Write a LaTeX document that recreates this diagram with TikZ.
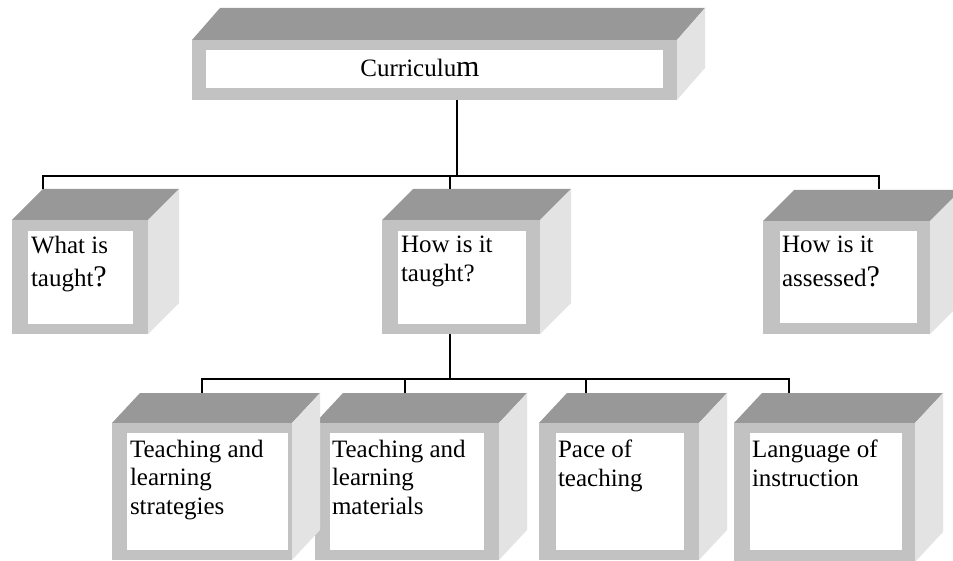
\documentclass[tikz,border=0pt]{standalone}
\usepackage{fontspec}
\setmainfont{Liberation Serif}
\definecolor{topc}{RGB}{152,152,152}
\definecolor{frontc}{RGB}{194,194,194}
\definecolor{sidec}{RGB}{227,227,227}
\newcommand\cubebox[7]{% name, x0, y0, w, h, dx, dy
  \fill[topface] (#2,#3) -- ++(#6,-#7) -- ++(#4,0) -- ++(-#6,#7) -- cycle;
  \fill[sideface] (#2+#4,#3) -- ++(#6,-#7) -- ++(0,#5) -- ++(-#6,#7) -- cycle;
  \node[frontface, minimum width=#4pt, minimum height=#5pt, anchor=north west] (#1) at (#2,#3) {};
}
\newcommand\innerbox[5]{% name, x, y, w, h
  \node[whiteface, minimum width=#4pt, minimum height=#5pt, anchor=north west] (#1) at (#2,#3) {};
}
\begin{document}
\begin{tikzpicture}[x=1pt,y=-1pt,
  topface/.style={fill=topc},
  sideface/.style={fill=sidec},
  frontface/.style={fill=frontc, inner sep=0pt, outer sep=0pt},
  whiteface/.style={fill=white, inner sep=0pt, outer sep=0pt},
  lbl/.style={inner sep=0pt, outer sep=0pt, align=left, anchor=north west,
              font=\fontsize{25}{28.5}\selectfont},
  conn/.style={draw=black, line width=1.3pt}]
\useasboundingbox (0,0) rectangle (953,561);

% top box
\cubebox{cur}{192}{40}{485}{60}{28}{32}
\innerbox{cur-w}{206}{50}{457}{38}
\node[inner sep=0pt, anchor=base, font=\fontsize{25}{28}\selectfont] (cur-l) at (420,77) {Curriculu{\fontsize{30}{30}\selectfont m}};

% middle row
\cubebox{what}{12}{220}{136}{114}{31}{31}
\innerbox{what-w}{28}{231}{105}{93}
\node[lbl] (what-l) at (31,236) {What is\\[5pt]taught{\fontsize{30}{30}\selectfont ?}};

\cubebox{how}{382}{220}{158}{114}{31}{31}
\innerbox{how-w}{398}{231}{128}{93}
\node[lbl] (how-l) at (401,236) {How is it\\taught?};

\cubebox{assess}{763}{221}{167}{113}{31}{31}
\innerbox{assess-w}{780}{231}{137}{92}
\node[lbl] (assess-l) at (782,236) {How is it\\[5pt]assessed{\fontsize{30}{30}\selectfont ?}};

% bottom row (box 2 first: box 1's side overlaps it)
\cubebox{tlm}{315}{423}{184}{137}{28}{30}
\innerbox{tlm-w}{330}{433}{154}{117}
\node[lbl] (tlm-l) at (332,440) {Teaching and\\learning\\materials};

\cubebox{tls}{112}{423}{180}{137}{28}{30}
\innerbox{tls-w}{127}{433}{161}{117}
\node[lbl] (tls-l) at (130,440) {Teaching and\\learning\\strategies};

\cubebox{pace}{539}{423}{160}{137}{28}{30}
\innerbox{pace-w}{556}{433}{128}{117}
\node[lbl] (pace-l) at (558,440) {Pace of\\teaching};

\cubebox{lang}{734}{423}{181}{139}{28}{30}
\innerbox{lang-w}{750}{433}{152}{117}
\node[lbl] (lang-l) at (752,440) {Language of\\instruction};

% connector end points on the top faces
\coordinate (what-t) at (43,189);
\coordinate (how-t) at (450,189);
\coordinate (assess-t) at (879,189);
\coordinate (tls-t) at (202,393);
\coordinate (tlm-t) at (405,393);
\coordinate (pace-t) at (586,393);
\coordinate (lang-t) at (789,393);
\coordinate (bus1) at (457,176);
\coordinate (bus2) at (450,379);

% connectors
\draw[conn] (cur.south -| bus1) -- (bus1);
\draw[conn] (what-t) -- (what-t |- bus1) -| (assess-t);
\draw[conn] (how-t) -- (how-t |- bus1);
\draw[conn] (how.south -| bus2) -- (bus2);
\draw[conn] (tls-t) -- (tls-t |- bus2) -| (lang-t);
\draw[conn] (tlm-t) -- (tlm-t |- bus2);
\draw[conn] (pace-t) -- (pace-t |- bus2);
\end{tikzpicture}
\end{document}
